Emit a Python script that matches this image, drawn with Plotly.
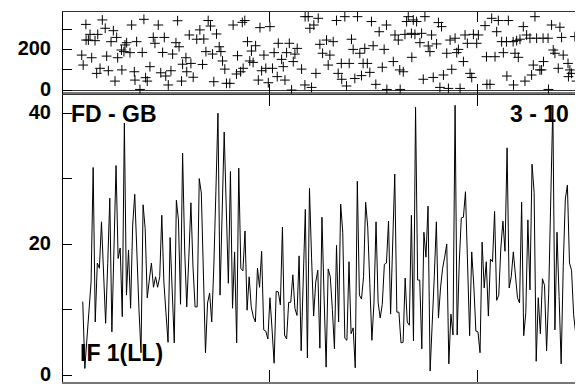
import plotly.graph_objects as go

# ---- bottom panel: line series (index -> value), starting at obs 10
line_start = 10
line_values = [
    11.2, 1.0, 5.5, 9.6, 14.2, 31.7, 8.1, 17.1, 16.3, 23.4,
    15.0, 7.9, 17.0, 27.0, 6.6, 19.0, 32.0, 17.8, 19.4, 8.9,
    38.5, 12.2, 19.1, 10.2, 22.9, 27.6, 17.3, 10.2, 3.4, 26.0,
    22.4, 11.8, 14.5, 17.1, 13.4, 15.0, 13.4, 15.0, 24.4, 14.2,
    9.5, 5.0, 21.0, 12.0, 4.9, 26.7, 23.7, 10.8, 33.9, 19.1,
    10.4, 18.0, 26.3, 16.5, 10.4, 10.4, 30.0, 27.8, 15.0, 3.4,
    11.0, 12.5, 8.1, 16.5, 28.0, 40.0, 12.2, 25.0, 37.1, 25.5,
    14.0, 31.1, 10.2, 18.8, 4.9, 31.6, 16.3, 15.9, 22.0, 9.9,
    15.0, 10.4, 8.9, 8.1, 16.3, 13.4, 18.9, 6.9, 6.7, 5.5,
    11.8, 7.0, 1.8, 12.8, 12.7, 10.7, 22.6, 6.1, 5.5, 11.1,
    11.1, 15.3, 10.2, 9.1, 18.2, 3.7, 14.0, 25.3, 2.6, 28.5,
    18.0, 9.0, 14.2, 16.0, 4.1, 24.1, 12.2, 1.2, 16.2, 15.0,
    10.0, 4.0, 19.8, 8.1, 26.1, 21.8, 5.6, 5.3, 17.3, 6.3,
    7.2, 1.1, 29.6, 12.2, 11.6, 15.0, 26.4, 22.6, 14.0, 5.3,
    11.0, 23.4, 11.1, 8.7, 10.8, 16.9, 17.1, 23.5, 9.3, 20.0,
    30.7, 9.6, 9.6, 4.9, 5.0, 14.8, 8.1, 7.6, 24.4, 5.2,
    40.9, 14.5, 14.5, 4.0, 21.8, 18.0, 25.8, 0.6, 7.0, 15.0,
    23.4, 8.7, 13.3, 16.3, 18.0, 20.0, 1.7, 9.3, 6.1, 41.2,
    6.1, 17.1, 24.0, 24.1, 28.0, 18.3, 6.0, 18.8, 13.7, 6.7,
    6.6, 3.4, 20.3, 13.3, 17.3, 9.0, 17.7, 17.3, 25.0, 11.4,
    12.2, 19.4, 23.5, 18.9, 34.7, 13.3, 15.0, 18.8, 15.6, 11.8,
    11.0, 26.4, 6.0, 9.5, 23.7, 13.0, 32.2, 27.9, 2.1, 11.8,
    6.3, 14.7, 13.7, 3.7, 12.4, 25.0, 41.2, 6.9, 21.8, 12.0,
    1.7, 16.6, 26.9, 29.0, 17.1, 16.0, 9.2, 6.3, 18.9,
]
line_x = list(range(line_start, line_start + len(line_values)))

# ---- top panel: scatter (obs position, value)
dir_x = [
    9.5, 10.2, 11.5, 11.6, 12.7, 13.5, 14.3, 15.9, 16.7, 17.2, 18.3, 19.4, 20.8, 21.5, 22.3,
    23.6, 24.7, 25.5, 26.3, 26.8, 28.6, 28.8, 29.8, 30.3, 31.1, 32.7, 33.5, 34.8, 35.1, 35.9,
    37.5, 38.6, 39.4, 40.2, 41.0, 42.3, 43.9, 44.7, 46.3, 47.5, 48.4, 49.2, 49.9, 51.1, 52.4,
    53.2, 54.8, 55.6, 56.3, 57.5, 58.0, 59.6, 60.0, 61.2, 62.0, 63.1, 64.8,
    66.3, 67.6, 68.2, 69.2, 70.3, 71.4, 72.4, 73.0, 74.3, 75.6, 76.4, 77.2, 78.3, 79.1, 80.7,
    82.3, 83.9, 84.4, 85.9, 86.7, 87.1, 87.9, 89.2, 90.3, 91.1, 91.9, 93.1, 94.4, 95.2, 96.0,
    97.1, 98.0, 99.2, 100.0, 101.2, 102.0, 103.5, 104.0, 105.6, 106.4, 107.2, 108.0, 109.3, 110.4,
    111.2, 112.0, 113.1, 115.2, 116.8, 116.9, 118.4, 119.2, 120.0, 121.1, 122.1, 123.2, 124.0,
    125.3, 127.2, 128.0, 128.8, 130.4, 132.0, 132.8, 134.3, 134.5, 136.0, 136.8, 138.1, 139.2,
    140.0, 140.8, 142.1, 143.2, 144.0, 144.8, 145.6, 146.8, 148.0, 148.8, 149.6, 150.9, 152.5,
    154.0, 154.9, 156.0, 156.2,
    159.3, 160.1, 161.7, 162.4, 162.6, 164.1, 164.9, 165.7, 166.5, 168.0, 168.2, 168.9, 169.7,
    170.5, 172.1, 172.9, 173.7, 174.5, 176.1, 176.9, 177.7, 178.5, 180.1, 181.0, 181.7, 182.5,
    183.4, 185.0, 185.8, 186.6, 187.4, 189.0, 189.8, 190.6, 191.4, 193.0, 193.8, 194.9, 196.2,
    197.0, 197.8, 199.4, 200.2, 203.4, 204.1, 204.3, 205.8, 206.6, 208.2, 209.0, 209.8, 211.4,
    212.2, 213.7, 213.9, 214.6, 216.9, 217.1, 217.8, 218.6, 219.4, 220.2, 221.8, 222.6, 223.4,
    225.0, 225.8, 226.6, 227.4, 228.2, 229.8, 230.6, 231.3, 231.5, 233.7, 233.9, 235.4, 236.2,
    237.0, 238.6, 239.4, 240.2, 241.0, 243.3, 243.5, 244.2, 245.0, 246.6, 247.4,
]
dir_values = [
    172, 123, 323, 246, 246, 274, 159, 243, 82, 274, 107, 345, 304, 167, 95,
    238, 292, 44, 259, 159, 197, 99, 189, 222, 233, 184, 320, 90, 49, 238,
    3, 185, 348, 61, 44, 115, 259, 230, 320, 85, 185, 259, 69, 25, 95,
    177, 233, 341, 213, 44, 127, 159, 90, 271, 131, 63, 250,
    296, 126, 251, 189, 342, 315, 177, 41, 276, 213, 189, 143, 103, 33, 33,
    320, 79, 169, 90, 333, 107, 342, 238, 143, 192, 136, 218, 49, 307, 95,
    172, 107, 36, 312, 107, 184, 66, 230, 151, 115, 49, 184, 230, 0,
    140, 177, 205, 103, 25, 361, 361, 304, 13, 320, 82, 353, 225,
    181, 246, 123, 172, 238, 342, 82, 131, 53, 361, 20, 131, 250,
    200, 57, 361, 181, 71, 131, 205, 131, 87, 337, 218, 28, 287,
    112, 200, 320, 3,
    140, 271, 246, 99, 3, 90, 274, 337, 361, 279, 161, 345, 274,
    337, 233, 279, 53, 361, 217, 189, 271, 62, 227, 332, 13, 312,
    74, 181, 8, 246, 102, 255, 184, 200, 8, 140, 271, 230, 82,
    62, 274, 230, 271, 317, 164, 28, 28, 353, 164, 287, 342, 238,
    184, 238, 69, 342, 238, 25, 181, 243, 161, 250, 312, 44, 271,
    255, 74, 123, 361, 255, 99, 99, 255, 140, 255, 3, 320, 197,
    181, 107, 309, 259, 172, 131, 66, 99, 82, 263, 44,
]

# axis ticks
x_tickvals = [100, 200]
top_tickvals = [0, 100, 200, 300]
top_ticktext = ["0", "", "200", ""]
bot_tickvals = [0, 10, 20, 30, 40]
bot_ticktext = ["0", "", "20", "", "40"]

FONT = "Liberation Sans, Arial, sans-serif"
split = 288.5 / 370.0

fig = go.Figure()
fig.add_trace(go.Scatter(
    x=line_x, y=line_values, mode="lines",
    line=dict(color="black", width=1), xaxis="x", yaxis="y",
    showlegend=False, hoverinfo="skip"))
fig.add_trace(go.Scatter(
    x=dir_x, y=dir_values, mode="markers",
    marker=dict(symbol="cross-thin", size=7, line=dict(color="black", width=1)),
    xaxis="x2", yaxis="y2", showlegend=False, hoverinfo="skip"))

common_x = dict(range=[0.5, 250.5], tickvals=x_tickvals, showticklabels=False,
                ticks="inside", showgrid=False, zeroline=False, showline=True,
                mirror="ticks", tickcolor="black", automargin=False)
# page body has an 8px default margin, so the figure is sized to end at the window edge
fig.update_layout(
    width=575, height=376,
    margin=dict(l=55, r=0, t=4, b=2),
    paper_bgcolor="white", plot_bgcolor="white",
    xaxis=dict(**common_x, domain=[0, 1], anchor="y", ticklen=12,
               linecolor="#777", linewidth=2),
    xaxis2=dict(**common_x, domain=[0, 1], anchor="y2", ticklen=10,
                linecolor="#333", linewidth=1, matches="x"),
    yaxis=dict(domain=[0, split], range=[-1.07, 43.0], anchor="x",
               tickvals=bot_tickvals, ticktext=bot_ticktext,
               ticks="inside", ticklen=9, tickcolor="black",
               showline=True, linecolor="black", linewidth=1, automargin=False,
               ticklabeloverflow="allow",
               showgrid=False, zeroline=False, ticklabelstandoff=7, ticklabelshift=-1,
               tickfont=dict(family=FONT, size=20, color="black", weight="bold")),
    yaxis2=dict(domain=[split, 1], range=[-17, 384], anchor="x2",
                tickvals=top_tickvals, ticktext=top_ticktext,
                ticks="inside", ticklen=9, tickcolor="black",
                showline=True, linecolor="black", linewidth=1, automargin=False,
                ticklabeloverflow="allow",
                showgrid=False, zeroline=True, zerolinecolor="#333", zerolinewidth=1,
                ticklabelstandoff=7, ticklabelshift=-1,
                tickfont=dict(family=FONT, size=20, color="black", weight="bold")),
)

ann_font = dict(family=FONT, size=23, color="black", weight="bold")
fig.add_annotation(text="FD - GB", xref="x domain", yref="y domain", x=0.012, y=0.929,
                   xanchor="left", yanchor="middle", showarrow=False, font=ann_font)
fig.add_annotation(text="3 - 10", xref="x domain", yref="y domain", x=0.976, y=0.929,
                   xanchor="right", yanchor="middle", showarrow=False, font=ann_font)
fig.add_annotation(text="IF 1(LL)", xref="x domain", yref="y domain", x=0.028, y=0.1005,
                   xanchor="left", yanchor="middle", showarrow=False, font=ann_font)

fig.write_html("out.html")
